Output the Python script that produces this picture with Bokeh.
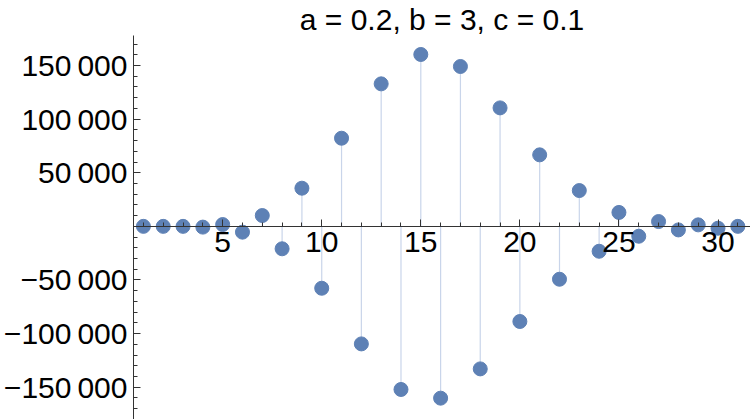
from bokeh.plotting import figure
from bokeh.models import FixedTicker, Range1d
from bokeh.embed import file_html
from bokeh.resources import INLINE

n_values = list(range(1, 32))
y_values = [0, 0, 0, -700, 1700, -5400, 10100, -20900, 35600, -57700,
            82200, -109600, 132900, -152100, 160300, -160200, 149100, -132900,
            110500, -88700, 66700, -49300, 33400, -23200, 13000, -9200,
            4500, -3300, 1400, -1700, 0]
title_text = "a = 0.2, b = 3, c = 0.1"
y_ticks = [-150000, -100000, -50000, 50000, 100000, 150000]
x_ticks = [5, 10, 15, 20, 25, 30]

def fmt(v):
    s = f"{abs(v):,}".replace(",", "\u2009")
    return ("\u2212" + s) if v < 0 else s

FONT = "Liberation Sans"
PT = "#5E81B5"
X0, X1 = 0.5, 31.64
Y0, Y1 = -180100, 178000

p = figure(width=750, height=419, output_backend="svg", toolbar_location=None,
           x_range=Range1d(X0, X1), y_range=Range1d(Y0, Y1),
           min_border_left=0, min_border_right=0, min_border_top=35, min_border_bottom=0,
           title=title_text)
p.outline_line_color = None
p.grid.visible = False
p.background_fill_color = "white"
p.border_fill_color = "white"

p.title.text_font = FONT
p.title.text_font_size = "30px"
p.title.text_font_style = "normal"
p.title.align = "center"
p.title.text_color = "black"
p.title.standoff = 0
p.title.offset = 0

p.segment(x0=n_values, y0=[0] * len(n_values), x1=n_values, y1=y_values,
          line_color="#c9d5ea", line_width=1.2)
p.scatter(n_values, y_values, size=14, fill_color=PT, line_color=PT)

yax = p.yaxis[0]
yax.ticker = FixedTicker(ticks=y_ticks, minor_ticks=list(range(-180000, 180001, 10000)))
yax.major_label_overrides = {t: fmt(t) for t in y_ticks}
xax = p.xaxis[0]
xax.ticker = FixedTicker(ticks=x_ticks, minor_ticks=n_values)
xax.fixed_location = 0
for ax in (xax, yax):
    ax.axis_line_color = "#333333"
    ax.major_tick_line_color = "#333333"
    ax.minor_tick_line_color = "#333333"
    ax.major_tick_in = 7
    ax.major_tick_out = 0
    ax.minor_tick_in = 4
    ax.minor_tick_out = 0
    ax.major_label_text_font = FONT
    ax.major_label_text_font_size = "30px"
    ax.major_label_text_color = "black"
    ax.major_label_standoff = 6

open("out.html", "w").write(file_html(p, INLINE))
